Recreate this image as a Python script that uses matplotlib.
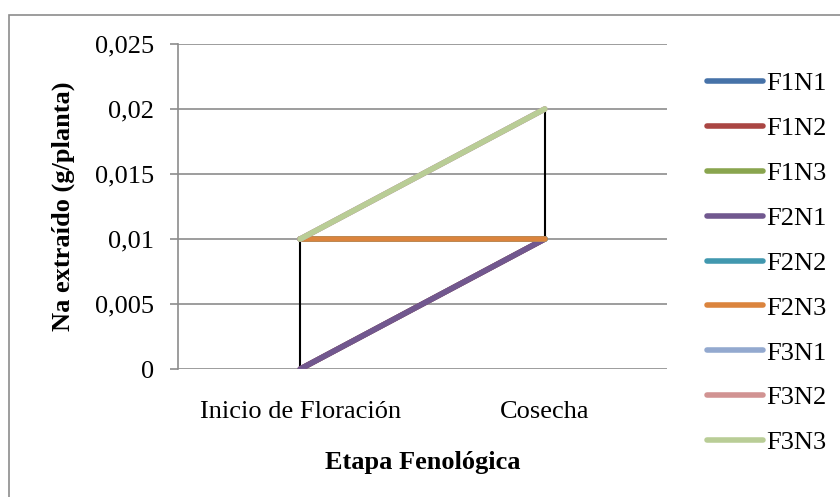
import matplotlib
matplotlib.use("Agg")
import matplotlib.pyplot as plt
from matplotlib.patches import Rectangle
from matplotlib.ticker import FuncFormatter

plt.rcParams['font.family'] = ['Liberation Serif', 'DejaVu Serif']

etapas = ['Inicio de Floración', 'Cosecha']
series = ['F1N1', 'F1N2', 'F1N3', 'F2N1', 'F2N2', 'F2N3', 'F3N1', 'F3N2', 'F3N3']
f1n1 = [0.0, 0.01]
f1n2 = [0.0, 0.01]
f1n3 = [0.01, 0.01]
f2n1 = [0.0, 0.01]
f2n2 = [0.01, 0.01]
f2n3 = [0.01, 0.01]
f3n1 = [0.01, 0.02]
f3n2 = [0.01, 0.02]
f3n3 = [0.01, 0.02]
valores = [f1n1, f1n2, f1n3, f2n1, f2n2, f2n3, f3n1, f3n2, f3n3]
colores = ['#4672A8', '#AA4643', '#89A54E', '#71588F', '#4198AF',
           '#DB843D', '#93A9CF', '#D19392', '#B9CD96']

fig = plt.figure(figsize=(8.4, 4.97), dpi=100)
W, H = 840, 497
ax = fig.add_axes([178 / W, 1 - 369 / H, (667 - 178) / W, (369 - 44) / H])

# borde del grafico
fig.patches.append(Rectangle((9 / W, -0.1), 1.2, 1 - 15 / H + 0.1,
                             transform=fig.transFigure, fill=False,
                             edgecolor='#8c8c8c', linewidth=1.2))

x = [0, 1]
# lineas max-min
for i in x:
    col = [v[i] for v in valores]
    ax.plot([i, i], [min(col), max(col)], color='black', lw=1.5, zorder=2)

for nombre, v, c in zip(series, valores, colores):
    ax.plot(x, v, color=c, lw=4, solid_capstyle='round', label=nombre, zorder=3)

ax.set_xlim(-0.5, 1.5)
ax.set_ylim(0, 0.025)
ax.set_yticks([0, 0.005, 0.01, 0.015, 0.02, 0.025])
fmt = lambda v, p: '0' if v == 0 else ('%g' % v).replace('.', ',')
ax.yaxis.set_major_formatter(FuncFormatter(fmt))
ax.set_xticks(x)
ax.set_xticklabels(etapas)
ax.grid(axis='y', color='#8c8c8c', lw=1.2, zorder=0)
for s in ['top', 'right', 'bottom']:
    ax.spines[s].set_visible(False)
ax.spines['left'].set_color('#8c8c8c')
ax.spines['left'].set_linewidth(1.2)
ax.tick_params(axis='y', direction='out', length=6, width=1.2, color='#8c8c8c',
               labelsize=19, pad=11)
ax.tick_params(axis='x', length=0, labelsize=19, pad=23)

ax.set_ylabel('Na extraído (g/planta)', fontsize=19, fontweight='bold', labelpad=14.5)
ax.set_xlabel('Etapa Fenológica', fontsize=19, fontweight='bold', labelpad=20)

ax.legend(loc='upper left', bbox_to_anchor=(707 / W, 1 - 72 / H),
          bbox_transform=fig.transFigure, frameon=False, fontsize=19,
          handlelength=2.12, handletextpad=0.11, labelspacing=0.81,
          borderpad=0, borderaxespad=0)

fig.savefig('out.png', dpi=100)
